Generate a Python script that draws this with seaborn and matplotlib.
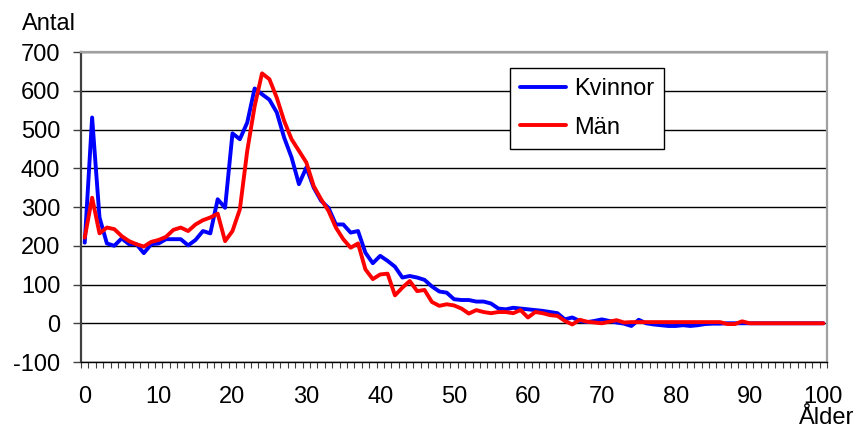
import numpy as np
import pandas as pd
import seaborn as sns
import matplotlib.pyplot as plt
from matplotlib.ticker import MultipleLocator

# ålder 0-100
alder = list(range(101))

kvinnor = [208, 531, 273, 206, 200, 219, 204, 204, 181, 204,
           206, 217, 217, 217, 201, 215, 238, 232, 320, 298,
           490, 475, 518, 606, 591, 577, 544, 479, 428, 359,
           402, 350, 316, 298, 255, 255, 234, 238, 182, 155,
           174, 161, 146, 118, 122, 118, 112, 95, 82, 79,
           62, 60, 60, 56, 56, 51, 38, 36, 40, 38,
           36, 34, 32, 29, 26, 10, 15, 6, 3, 6,
           10, 6, 2, -1, -7, 9, 0, -3, -5, -7,
           -7, -5, -7, -5, -2, -1, -1, 0, 0, 0,
           0, 0, 0, 0, 0, 0, 0, 0, 0, 0, 0]

man = [221, 324, 232, 247, 243, 225, 212, 204, 198, 210,
       215, 223, 241, 247, 238, 255, 266, 273, 283, 212,
       238, 294, 445, 560, 645, 630, 582, 522, 475, 445,
       415, 354, 320, 290, 247, 217, 195, 206, 139, 114,
       126, 128, 72, 92, 109, 83, 86, 55, 45, 49,
       46, 38, 25, 34, 29, 26, 29, 29, 26, 34,
       15, 29, 26, 21, 19, 6, -3, 9, 4, 2,
       0, 4, 8, 2, 3, 3, 3, 3, 3, 3,
       3, 3, 3, 3, 3, 3, 3, -2, -2, 5,
       0, 0, 0, 0, 0, 0, 0, 0, 0, 0, 0]

serier = ['Kvinnor', 'Män']
farger = ['#0000FF', '#FF0000']

df = pd.DataFrame({'Ålder': alder * 2,
                   'Antal': kvinnor + man,
                   'Kön': ['Kvinnor'] * len(alder) + ['Män'] * len(alder)})

sns.set_style('white')
plt.rcParams['font.family'] = ['Liberation Sans', 'DejaVu Sans']
plt.rcParams['axes.unicode_minus'] = False
plt.rcParams['text.color'] = 'black'
plt.rcParams['xtick.labelcolor'] = 'black'
plt.rcParams['ytick.labelcolor'] = 'black'

fig = plt.figure(figsize=(8.63, 4.30), dpi=100)
ax = fig.add_axes([0.0939, 0.1581, 0.8645, 0.7209])

sns.lineplot(data=df, x='Ålder', y='Antal', hue='Kön', hue_order=serier,
             palette=farger, linewidth=2.8, ax=ax)

ax.set_xlim(-0.5, 100.5)
ax.set_ylim(-100, 700)
ax.xaxis.set_major_locator(MultipleLocator(10))
ax.xaxis.set_minor_locator(MultipleLocator(1, offset=0.5))
ax.yaxis.set_major_locator(MultipleLocator(100))
ax.tick_params(axis='x', which='major', length=0, pad=17, labelsize=17)
ax.tick_params(axis='x', which='minor', bottom=True, length=4, width=0.8,
               direction='out', color='#404040')
ax.tick_params(axis='y', which='major', left=True, length=6, width=1,
               direction='out', pad=9, labelsize=17, color='#404040')

ax.set_axisbelow(True)
ax.grid(axis='y', color='black', linewidth=1)
ax.grid(axis='x', visible=False)

ax.spines['left'].set_color('#404040')
ax.spines['left'].set_linewidth(1.6)
ax.spines['bottom'].set_color('black')
ax.spines['bottom'].set_linewidth(1)
ax.spines['top'].set_color('#A0A0A0')
ax.spines['top'].set_linewidth(1.6)
ax.spines['right'].set_color('#A0A0A0')
ax.spines['right'].set_linewidth(1.6)

ax.set_xlabel('')
ax.set_ylabel('')
fig.text(22 / 863, 1 - 30 / 430, 'Antal', fontsize=17, va='baseline')
fig.text(799 / 863, 1 - 424 / 430, 'Ålder', fontsize=17, va='baseline')

leg = ax.legend(loc='upper left', bbox_to_anchor=(0.575, 0.948),
                borderaxespad=0, fontsize=17, handlelength=1.95,
                handletextpad=0.35, borderpad=0.42, labelspacing=0.7,
                fancybox=False, framealpha=1, edgecolor='black')
leg.get_frame().set_linewidth(1)
for line in leg.get_lines():
    line.set_linewidth(2.8)

fig.savefig('out.png', dpi=100)
